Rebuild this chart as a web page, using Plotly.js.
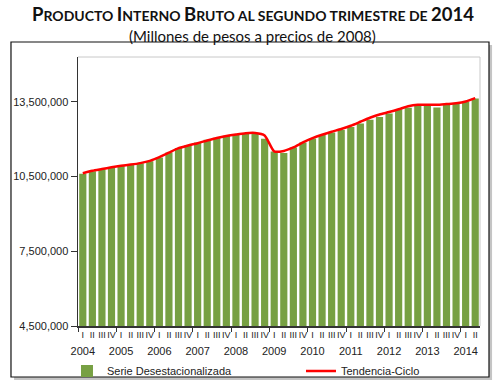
<!DOCTYPE html>
<html>
<head>
<meta charset="utf-8">
<script src="https://cdn.plot.ly/plotly-3.0.1.min.js"></script>
<style>html,body{margin:0;padding:0;background:#fff;}#chart{width:497px;height:392px;}</style>
</head>
<body>
<div id="chart"></div>
<script>
// ---- data ----
const years = ['2004','2005','2006','2007','2008','2009','2010','2011','2012','2013','2014'];
const quarterLabels = ['I','II','III','IV'];
const serieDesestacionalizada = [
  10610000,10710000,10790000,10870000,
  10940000,10980000,11030000,11110000,
  11270000,11470000,11650000,11770000,
  11870000,11980000,12060000,12140000,
  12190000,12230000,12210000,12020000,
  11510000,11450000,11670000,11870000,
  12030000,12170000,12270000,12370000,
  12490000,12630000,12780000,12890000,
  13030000,13200000,13260000,13340000,
  13340000,13270000,13380000,13410000,
  13500000,13630000
];
const tendenciaCiclo = [
  10630000,10730000,10800000,10870000,
  10930000,10980000,11040000,11130000,
  11280000,11460000,11640000,11750000,
  11840000,11950000,12050000,12130000,
  12190000,12240000,12250000,12150000,
  11510000,11530000,11670000,11870000,
  12040000,12180000,12300000,12410000,
  12540000,12700000,12860000,12990000,
  13090000,13200000,13320000,13380000,
  13380000,13380000,13410000,13440000,
  13510000,13650000
];
const yTickVals = [4500000,7500000,10500000,13500000];

// ---- derived ----
const idx = serieDesestacionalizada.map((_, i) => i);
const tickText = idx.map(i => {
  const q = '<span style="font-size:9px">' + quarterLabels[i % 4] + '</span>';
  return (i % 4 === 0) ? q + '<br><span style="font-size:11px">' + years[Math.floor(i / 4)] + '</span>' : q;
});
const yearBoundaries = years.map((_, k) => k * 4 - 0.5);

const traces = [
  {
    type: 'bar', x: idx, y: serieDesestacionalizada, name: 'Serie Desestacionalizada',
    marker: {color: '#77A043', line: {width: 0}}, legend: 'legend', hoverinfo: 'y'
  },
  {
    type: 'scatter', mode: 'lines', x: idx, y: tendenciaCiclo, name: 'Tendencia-Ciclo',
    line: {color: '#FF0000', width: 2.5, shape: 'spline', smoothing: 0.6}, legend: 'legend2', hoverinfo: 'y'
  }
];

const F = 'Liberation Sans, Arial, sans-serif';
const layout = {
  width: 497, height: 392,
  margin: {l: 78, r: 17, t: 57, b: 66, pad: 0, autoexpand: false},
  paper_bgcolor: '#ffffff', plot_bgcolor: 'rgba(0,0,0,0)',
  bargap: 0.25,
  showlegend: true,
  font: {family: F, size: 11, color: '#222'},
  xaxis: {
    automargin: false,
    range: [-0.5, idx.length - 0.5], tickmode: 'array', tickvals: idx, ticktext: tickText,
    tickangle: 0, ticks: '', showgrid: false, zeroline: false,
    showline: true, linecolor: '#333', linewidth: 1.5,
    ticklabelstandoff: -5,
    tickfont: {family: F, size: 13, color: '#222'},
    minor: {tickmode: 'array', tickvals: yearBoundaries, ticks: 'outside', ticklen: 4, tickcolor: '#333', tickwidth: 1, showgrid: false}
  },
  yaxis: {
    automargin: false,
    range: [4500000, 15300000], tickmode: 'array', tickvals: yTickVals, tickformat: ',d',
    ticks: 'outside', ticklen: 6, tickcolor: '#333', tickwidth: 1,
    showgrid: false, zeroline: false, showline: true, linecolor: '#333', linewidth: 1.5,
    tickfont: {family: F, size: 11, color: '#222'}
  },
  legend: {orientation: 'h', x: -0.0274, xanchor: 'left', y: -0.167, yanchor: 'middle',
    bgcolor: 'rgba(0,0,0,0)', font: {family: F, size: 11, color: '#222'}, itemwidth: 30},
  legend2: {orientation: 'h', x: 0.5547, xanchor: 'left', y: -0.167, yanchor: 'middle',
    bgcolor: 'rgba(0,0,0,0)', font: {family: F, size: 11, color: '#222'}, itemwidth: 30},
  shapes: [
    {type: 'rect', xref: 'paper', yref: 'paper', x0: -0.159, x1: 1.030, y0: -0.2008, y1: 1.0446,
      fillcolor: '#c4c4c4', line: {width: 0}, layer: 'below'},
    {type: 'rect', xref: 'paper', yref: 'paper', x0: -0.1667, x1: 1.0224, y0: -0.1896, y1: 1.0558,
      fillcolor: '#ffffff', line: {color: '#111', width: 1.2}, layer: 'below'},
    {type: 'line', xref: 'paper', yref: 'paper', x0: 0, x1: 1, y0: 1, y1: 1,
      line: {color: '#c8c8c8', width: 1}, layer: 'below'},
    {type: 'line', xref: 'paper', yref: 'paper', x0: 1, x1: 1, y0: 0, y1: 1,
      line: {color: '#c8c8c8', width: 1}, layer: 'below'}
  ],
  annotations: [
    {xref: 'paper', yref: 'paper', x: 0.435, y: 1.16, xanchor: 'center', yanchor: 'middle', showarrow: false,
      font: {family: 'Lato, Open Sans, sans-serif', size: 14, color: '#111'},
      text: '<b><span style="font-size:18.5px">P</span>RODUCTO <span style="font-size:18.5px">I</span>NTERNO <span style="font-size:18.5px">B</span>RUTO AL SEGUNDO TRIMESTRE DE <span style="font-size:18.5px">2014</span></b>'},
    {xref: 'paper', yref: 'paper', x: 0.435, y: 1.077, xanchor: 'center', yanchor: 'middle', showarrow: false,
      font: {family: 'Lato, Open Sans, sans-serif', size: 15, color: '#111'},
      text: '(Millones de pesos a precios de 2008)'}
  ]
};

Plotly.newPlot('chart', traces, layout, {displayModeBar: false, staticPlot: true});
</script>
</body>
</html>
